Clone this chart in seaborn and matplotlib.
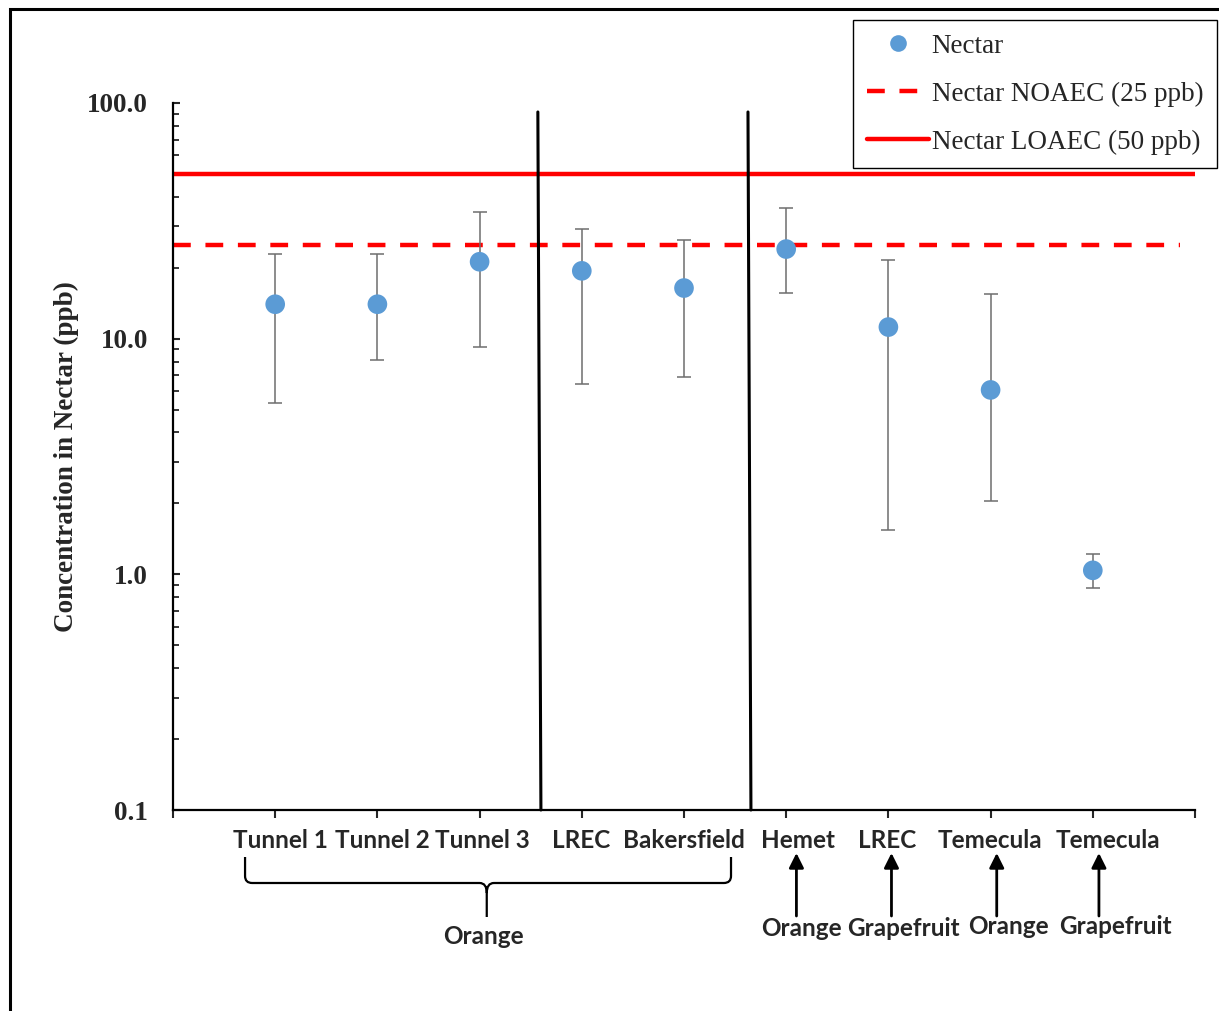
import numpy as np
import pandas as pd
import matplotlib
matplotlib.use("Agg")
import matplotlib.pyplot as plt
import matplotlib.transforms as mtransforms
from matplotlib.path import Path
from matplotlib.patches import PathPatch, Rectangle
from matplotlib.lines import Line2D
from matplotlib.ticker import FixedLocator, FixedFormatter, LogLocator, NullFormatter
import seaborn as sns

# ---------------- data ----------------
sites = ["Tunnel 1", "Tunnel 2", "Tunnel 3", "LREC", "Bakersfield",
         "Hemet", "LREC", "Temecula", "Temecula"]
crops_single = ["Orange", "Grapefruit", "Orange", "Grapefruit"]
group_label = "Orange"
nectar_mean = [14.0, 14.0, 21.2, 19.4, 16.4, 24.0, 11.2, 6.06, 1.04]
nectar_high = [22.9, 22.9, 34.5, 29.2, 26.2, 35.9, 21.6, 15.5, 1.22]
nectar_low = [5.33, 8.1, 9.2, 6.43, 6.88, 15.6, 1.54, 2.05, 0.875]
noaec = 25
loaec = 50
ytick_vals = [0.1, 1, 10, 100]
ytick_labels = ["0.1", "1.0", "10.0", "100.0"]

df = pd.DataFrame({"pos": np.arange(len(sites)), "site": sites,
                   "mean": nectar_mean, "high": nectar_high, "low": nectar_low})

# ---------------- style ----------------
sns.set_style("ticks")
plt.rcParams["font.family"] = ["Liberation Serif", "DejaVu Serif"]

W, H = 1219, 1011
fig = plt.figure(figsize=(W / 100, H / 100), dpi=100)
ax = fig.add_axes([173 / W, 1 - 810 / H, 1022 / W, (810 - 103) / H])

def fy(py):
    return 1 - py / H

# error bars
ax.errorbar(df["pos"], df["mean"],
            yerr=[df["mean"] - df["low"], df["high"] - df["mean"]],
            fmt="none", ecolor="#6e6e6e", elinewidth=1.1, capsize=4.8,
            capthick=1.1, zorder=3)
# points
sns.scatterplot(data=df, x="pos", y="mean", ax=ax, s=200, color="#5B9BD5",
                edgecolor="none", linewidth=0, zorder=5, legend=False)

# reference lines
ax.plot([-1, 9], [loaec, loaec], color="#ff0000", lw=3.2, zorder=2,
        solid_capstyle="butt")
ax.plot([-1, 8.85], [noaec, noaec], color="#ff0000", lw=3.2, zorder=2,
        dashes=(4.0, 3.3))

# group dividers
ax.plot([2.57, 2.60], [91.6, 0.1], color="black", lw=2.2, zorder=4,
        clip_on=False)
ax.plot([4.626, 4.655], [91.6, 0.1], color="black", lw=2.2, zorder=4,
        clip_on=False)

ax.set_yscale("log")
ax.set_ylim(0.1, 100)
ax.set_xlim(-1, 9)

ax.yaxis.set_major_locator(FixedLocator(ytick_vals))
ax.yaxis.set_major_formatter(FixedFormatter(ytick_labels))
ax.yaxis.set_minor_locator(LogLocator(base=10, subs=np.arange(2, 10)))
ax.yaxis.set_minor_formatter(NullFormatter())
ax.set_xticks(np.arange(-1, 10))
ax.set_xticklabels([])

for s in ["top", "right"]:
    ax.spines[s].set_visible(False)
for s in ["left", "bottom"]:
    ax.spines[s].set_linewidth(1.6)
    ax.spines[s].set_color("black")

ax.tick_params(axis="y", which="major", direction="in", length=5, width=1.5,
               pad=18, labelsize=19.5)
ax.tick_params(axis="y", which="minor", direction="in", length=4, width=1.3)
ax.tick_params(axis="x", which="major", direction="out", length=5.5, width=1.5)
for lab in ax.get_yticklabels():
    lab.set_fontweight("bold")

ax.set_xlabel("")
ax.set_ylabel("Concentration in Nectar (ppb)", fontsize=19.5, fontweight="bold")
ax.yaxis.set_label_coords(-0.092, 0.5)

# category labels under the axis
lab_font = dict(family=["Lato", "DejaVu Sans"], fontweight="bold", fontsize=17.5)
label_dx = [0.05, 0.05, 0.03, -0.01, 0.0, 0.12, -0.01, -0.01, 0.15]
for i, name in enumerate(sites):
    ax.annotate(name, xy=(i + label_dx[i], fy(840)),
                xycoords=("data", "figure fraction"),
                ha="center", va="center", annotation_clip=False, **lab_font)

# brace for the grouped orange sites
blend = mtransforms.blended_transform_factory(ax.transData, fig.transFigure)
L, R, C, r = -0.295, 4.46, 2.07, 0.07
verts = [(L, fy(857)), (L, fy(876)), (L, fy(883)), (L + r, fy(883)),
         (C - r, fy(883)), (C, fy(883)), (C, fy(893)), (C, fy(917)),
         (R, fy(857)), (R, fy(876)), (R, fy(883)), (R - r, fy(883)),
         (C + r, fy(883)), (C, fy(883)), (C, fy(893))]
codes = [Path.MOVETO, Path.LINETO, Path.CURVE3, Path.CURVE3,
         Path.LINETO, Path.CURVE3, Path.CURVE3, Path.LINETO,
         Path.MOVETO, Path.LINETO, Path.CURVE3, Path.CURVE3,
         Path.LINETO, Path.CURVE3, Path.CURVE3]
brace = PathPatch(Path(verts, codes), transform=blend, fill=False,
                  lw=1.6, ec="black", clip_on=False)
fig.patches.append(brace)
ax.annotate(group_label, xy=(2.04, fy(936)), xycoords=("data", "figure fraction"),
            ha="center", va="center", annotation_clip=False, **lab_font)

# arrows for single sites
arrow_x = [5.10, 6.03, 7.06, 8.06]
crop_x = [5.15, 6.15, 7.17, 8.22]
crop_y = [929, 928, 927, 926]
for ax_x, cx, cy, crop in zip(arrow_x, crop_x, crop_y, crops_single):
    ax.annotate("", xy=(ax_x, fy(853)), xytext=(ax_x, fy(916)),
                xycoords=("data", "figure fraction"),
                textcoords=("data", "figure fraction"),
                arrowprops=dict(arrowstyle="-|>", color="black", lw=2,
                                mutation_scale=22, shrinkA=0, shrinkB=0),
                annotation_clip=False)
    ax.annotate(crop, xy=(cx, fy(cy)), xycoords=("data", "figure fraction"),
                ha="center", va="center", annotation_clip=False, **lab_font)

# legend
handles = [
    Line2D([], [], ls="none", marker="o", markersize=12,
           markerfacecolor="#5B9BD5", markeredgecolor="none"),
    Line2D([], [], color="#ff0000", lw=3.2, dashes=(4.0, 3.3)),
    Line2D([], [], color="#ff0000", lw=3.2),
]
labels = ["Nectar", "Nectar NOAEC (25 ppb)", "Nectar LOAEC (50 ppb)"]
leg = fig.legend(handles, labels, loc="upper left",
                 bbox_to_anchor=(853 / W, fy(20)), frameon=True, fancybox=False,
                 edgecolor="black", framealpha=1, fontsize=19.5,
                 handlelength=2.3, handletextpad=0.1, labelspacing=0.85,
                 borderpad=0.5, borderaxespad=0)
leg.get_frame().set_linewidth(1.0)

# outer border
fig.patches.append(Rectangle((10 / W, -0.1), 1.2, fy(9) + 0.1,
                             transform=fig.transFigure, fill=False,
                             lw=2.2, ec="black"))

fig.savefig("out.png", dpi=100)
